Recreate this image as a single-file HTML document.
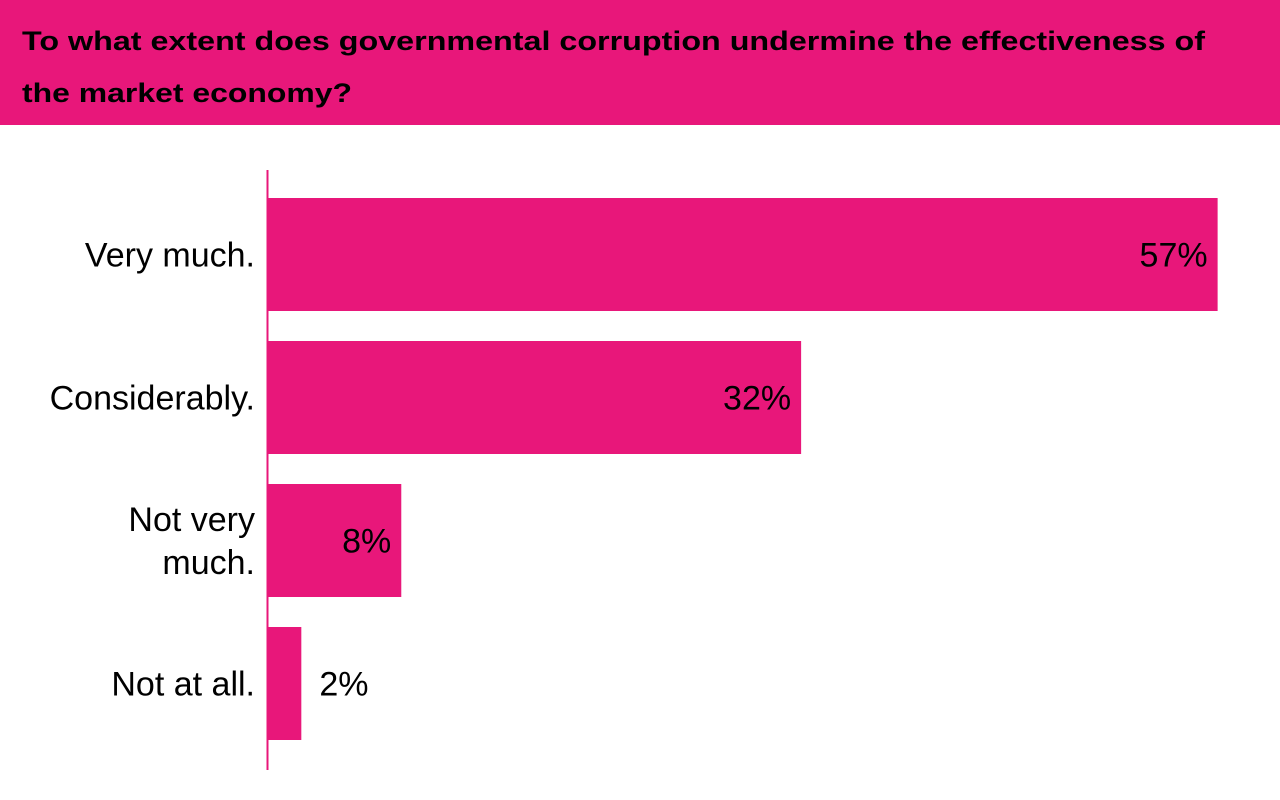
<!DOCTYPE html>
<html><head><meta charset="utf-8"><style>
html,body{margin:0;padding:0;background:#fff;width:1280px;height:800px;overflow:hidden}
svg{display:block;font-family:"Liberation Sans",sans-serif}
</style></head><body>
<svg id="chart" width="1280" height="800">
<rect x="0" y="0" width="1280" height="125" fill="#E8177A"/>
<text x="22" y="50" font-size="27" font-weight="bold" fill="#000" textLength="1183" lengthAdjust="spacingAndGlyphs">To what extent does governmental corruption undermine the effectiveness of</text>
<text x="22" y="102" font-size="27" font-weight="bold" fill="#000" textLength="330" lengthAdjust="spacingAndGlyphs">the market economy?</text>
<g id="bars"></g>
<line x1="267.5" y1="170" x2="267.5" y2="770" stroke="#E8177A" stroke-width="2"/>
</svg>
<script>
const categories = [["Very much."], ["Considerably."], ["Not very", "much."], ["Not at all."]];
const values = [57, 32, 8, 2];
const valueLabels = ["57%", "32%", "8%", "2%"];

const NS = "http://www.w3.org/2000/svg";
const x0 = 268, pxPerUnit = 16.66;
function xScale(v){ return x0 + v * pxPerUnit; }
const top0 = 198, step = 143, barH = 113;
function yScale(i){ return top0 + i * step; }
const g = document.getElementById('bars');
values.forEach((v, i) => {
  const y = yScale(i);
  const r = document.createElementNS(NS, 'rect');
  r.setAttribute('x', x0);
  r.setAttribute('y', y);
  r.setAttribute('width', xScale(v) - x0);
  r.setAttribute('height', barH);
  r.setAttribute('fill', '#E8177A');
  
  
  g.appendChild(r);

  const t = document.createElementNS(NS, 'text');
  const inside = (xScale(v) - x0) > 90;
  t.setAttribute('x', inside ? xScale(v) - 10 : xScale(v) + 18);
  t.setAttribute('y', y + barH / 2 + 12);
  t.setAttribute('text-anchor', inside ? 'end' : 'start');
  t.setAttribute('font-size', '34');
  t.setAttribute('fill', '#000');
  t.textContent = valueLabels[i];
  
  
  g.appendChild(t);

  const lines = categories[i];
  lines.forEach((ln, j) => {
    const c = document.createElementNS(NS, 'text');
    c.setAttribute('x', 255);
    const cy = y + barH / 2 + 12 + (j - (lines.length - 1) / 2) * 43;
    c.setAttribute('y', cy);
    c.setAttribute('text-anchor', 'end');
    c.setAttribute('font-size', '34');
    c.setAttribute('fill', '#000');
    c.textContent = ln;
    
    
    g.appendChild(c);
  });
});
</script>
</body></html>
